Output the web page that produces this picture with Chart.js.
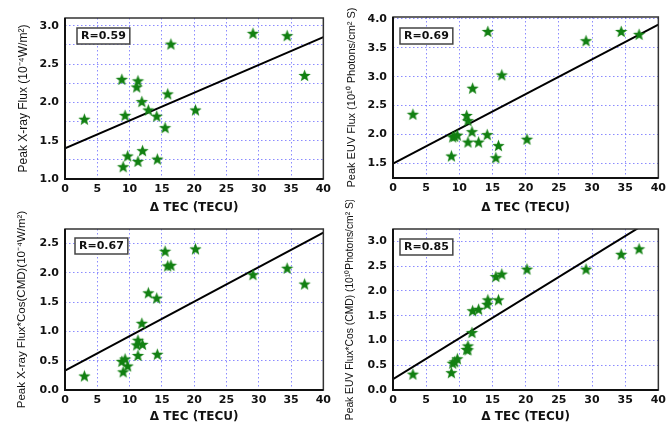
<!DOCTYPE html>
<html>
<head>
<meta charset="utf-8">
<script src="https://cdn.jsdelivr.net/npm/chart.js@4"></script>
<style>
body { margin: 0; background: #fff; }
canvas { position: absolute; }
</style>
</head>
<body>
<canvas id="xray" width="335" height="217" style="left:0;top:0"></canvas>
<canvas id="euv" width="335" height="217" style="left:335px;top:0"></canvas>
<canvas id="xray_cos" width="335" height="234" style="left:0;top:200px"></canvas>
<canvas id="euv_cos" width="335" height="234" style="left:335px;top:200px"></canvas>
<script>
// delta TEC of each event (shared by all four panels)
const tec = [3.0, 8.8, 9.0, 9.3, 9.7, 11.1, 11.3, 11.3, 11.9, 12.0, 12.9, 14.2, 14.3, 15.5, 15.9, 16.4, 20.2, 29.1, 34.4, 37.1];
const xray_flux = [1.78, 2.30, 1.16, 1.83, 1.30, 2.20, 2.28, 1.23, 2.01, 1.37, 1.90, 1.82, 1.26, 1.67, 2.11, 2.76, 1.90, 2.90, 2.87, 2.35];
const euv_flux = [2.35, 1.63, 1.96, 1.97, 1.99, 2.33, 2.24, 1.87, 2.05, 2.80, 1.87, 2.00, 3.78, 1.60, 1.81, 3.03, 1.92, 3.62, 3.78, 3.73];
const xray_cos = [0.24, 0.49, 0.31, 0.53, 0.41, 0.77, 0.85, 0.59, 1.14, 0.78, 1.66, 1.57, 0.61, 2.37, 2.12, 2.13, 2.41, 1.97, 2.08, 1.81];
const euv_cos = [0.32, 0.35, 0.54, 0.57, 0.63, 0.82, 0.89, 0.81, 1.16, 1.60, 1.63, 1.73, 1.82, 2.29, 1.82, 2.34, 2.44, 2.44, 2.74, 2.85];

// fitted lines, value at TEC = 0 and TEC = 40
const fit_x = [0, 40];
const xray_fit = [1.40, 2.85];
const euv_fit = [1.50, 3.90];
const xray_cos_fit = [0.33, 2.69];
const euv_cos_fit = [0.22, 3.52];

const r_labels = ['R=0.59', 'R=0.69', 'R=0.67', 'R=0.85'];
const x_ticks = [0, 5, 10, 15, 20, 25, 30, 35, 40];

function makeStar(r, color) {
  const c = document.createElement('canvas');
  const size = Math.ceil(r * 2) + 2;
  c.width = size;
  c.height = size;
  const ctx = c.getContext('2d');
  ctx.fillStyle = color;
  ctx.beginPath();
  for (let i = 0; i < 10; i++) {
    const rad = i % 2 ? r * 0.42 : r;
    const a = -Math.PI / 2 + i * Math.PI / 5;
    ctx.lineTo(size / 2 + rad * Math.cos(a), size / 2 + 0.5 + rad * Math.sin(a));
  }
  ctx.closePath();
  ctx.fill();
  return c;
}
const star = makeStar(6.5, 'rgb(18,128,18)');

// box around the plot and the R label
const frame = {
  id: 'frame',
  afterDatasetsDraw(chart, args, opts) {
    const {ctx, chartArea: a} = chart;
    ctx.save();
    ctx.strokeStyle = '#333';
    ctx.lineWidth = 1.5;
    ctx.strokeRect(a.left, a.top, a.right - a.left, a.bottom - a.top);
    ctx.strokeStyle = '#111';
    ctx.lineWidth = 2;
    ctx.beginPath();
    ctx.moveTo(a.left, a.top);
    ctx.lineTo(a.left, a.bottom);
    ctx.lineTo(a.right, a.bottom);
    ctx.stroke();

    ctx.font = 'bold 11px "DejaVu Sans"';
    const w = ctx.measureText(opts.text).width + 8;
    const bx = a.left + opts.dx, by = a.top + opts.dy;
    ctx.fillStyle = '#fff';
    ctx.fillRect(bx, by, w, 16);
    ctx.strokeStyle = '#444';
    ctx.lineWidth = 1.5;
    ctx.strokeRect(bx, by, w, 16);
    ctx.fillStyle = '#111';
    ctx.textBaseline = 'middle';
    ctx.fillText(opts.text, bx + 4, by + 8.5);
    ctx.restore();
  }
};

function makeChart(params) {
  Chart.defaults.font.family = '"DejaVu Sans", sans-serif';
  Chart.defaults.color = '#111';
  const grid = {
    color: 'rgba(110,110,255,0.8)',
    lineWidth: 1,
    drawTicks: false,
  };
  const border = {display: false, dash: [1.5, 2.5]};
  new Chart(document.getElementById(params.id), {
    type: 'scatter',
    data: {
      datasets: [
        {
          data: tec.map((x, i) => ({x: x, y: params.values[i]})),
          pointStyle: star,
          pointRadius: 6,
        },
        {
          type: 'line',
          data: fit_x.map((x, i) => ({x: x, y: params.fit[i]})),
          showLine: true,
          borderColor: '#000',
          borderWidth: 2,
          pointRadius: 0,
        },
      ],
    },
    options: {
      responsive: false,
      animation: false,
      layout: {padding: params.padding},
      scales: {
        x: {
          type: 'linear',
          min: x_ticks[0],
          max: x_ticks[x_ticks.length - 1],
          afterFit: s => { s.height = params.xHeight; },
          grid: grid,
          border: border,
          ticks: {stepSize: 5, padding: 4, font: {size: 11, weight: 'bold'}},
          title: {
            display: true,
            text: 'Δ TEC (TECU)',
            font: {size: 12, weight: 'bold'},
            padding: {top: 0, bottom: 2},
          },
        },
        y: {
          min: params.ymin,
          max: params.ymax,
          afterFit: s => { s.width = params.yWidth; },
          grid: grid,
          border: border,
          ticks: {
            stepSize: params.step,
            includeBounds: false,
            padding: 6,
            font: {size: 11, weight: 'bold'},
            callback: v => Math.abs(v * 2 - Math.round(v * 2)) < 1e-6 ? v.toFixed(1) : '',
          },
          title: {
            display: true,
            text: params.title,
            font: {family: '"Liberation Sans", sans-serif', size: params.titleSize},
            padding: {top: 0, bottom: 0},
          },
        },
      },
      plugins: {
        legend: {display: false},
        tooltip: {enabled: false},
        frame: {text: params.r, dx: params.rx, dy: params.ry},
      },
    },
    plugins: [frame],
  });
}

makeChart({
  id: 'xray', values: xray_flux, fit: xray_fit, r: r_labels[0],
  ymin: 1.0, ymax: 3.1, step: 0.25,
  title: 'Peak X-ray Flux (10⁻⁴W/m²)', titleSize: 12,
  padding: {left: 16, right: 2, top: 18, bottom: 0}, yWidth: 49, xHeight: 38,
  rx: 12, ry: 10,
});
makeChart({
  id: 'euv', values: euv_flux, fit: euv_fit, r: r_labels[1],
  ymin: 1.25, ymax: 4.03, step: 0.5,
  title: 'Peak EUV Flux (10¹⁰ Photons/cm² S)', titleSize: 11,
  padding: {left: 10, right: 9, top: 17, bottom: 0}, yWidth: 48, xHeight: 39,
  rx: 7, ry: 11,
});
makeChart({
  id: 'xray_cos', values: xray_cos, fit: xray_cos_fit, r: r_labels[2],
  ymin: 0, ymax: 2.75, step: 0.5,
  title: 'Peak X-ray Flux*Cos(CMD)(10⁻⁴W/m²)', titleSize: 11.5,
  padding: {left: 15, right: 2, top: 29, bottom: 8}, yWidth: 50, xHeight: 36,
  rx: 10, ry: 9,
});
makeChart({
  id: 'euv_cos', values: euv_cos, fit: euv_cos_fit, r: r_labels[3],
  ymin: 0, ymax: 3.25, step: 0.5,
  title: 'Peak EUV Flux*Cos (CMD) (10¹⁰Photons/cm² S)', titleSize: 10.3,
  padding: {left: 9, right: 9, top: 29, bottom: 8}, yWidth: 49, xHeight: 36,
  rx: 7, ry: 10,
});
</script>
</body>
</html>
